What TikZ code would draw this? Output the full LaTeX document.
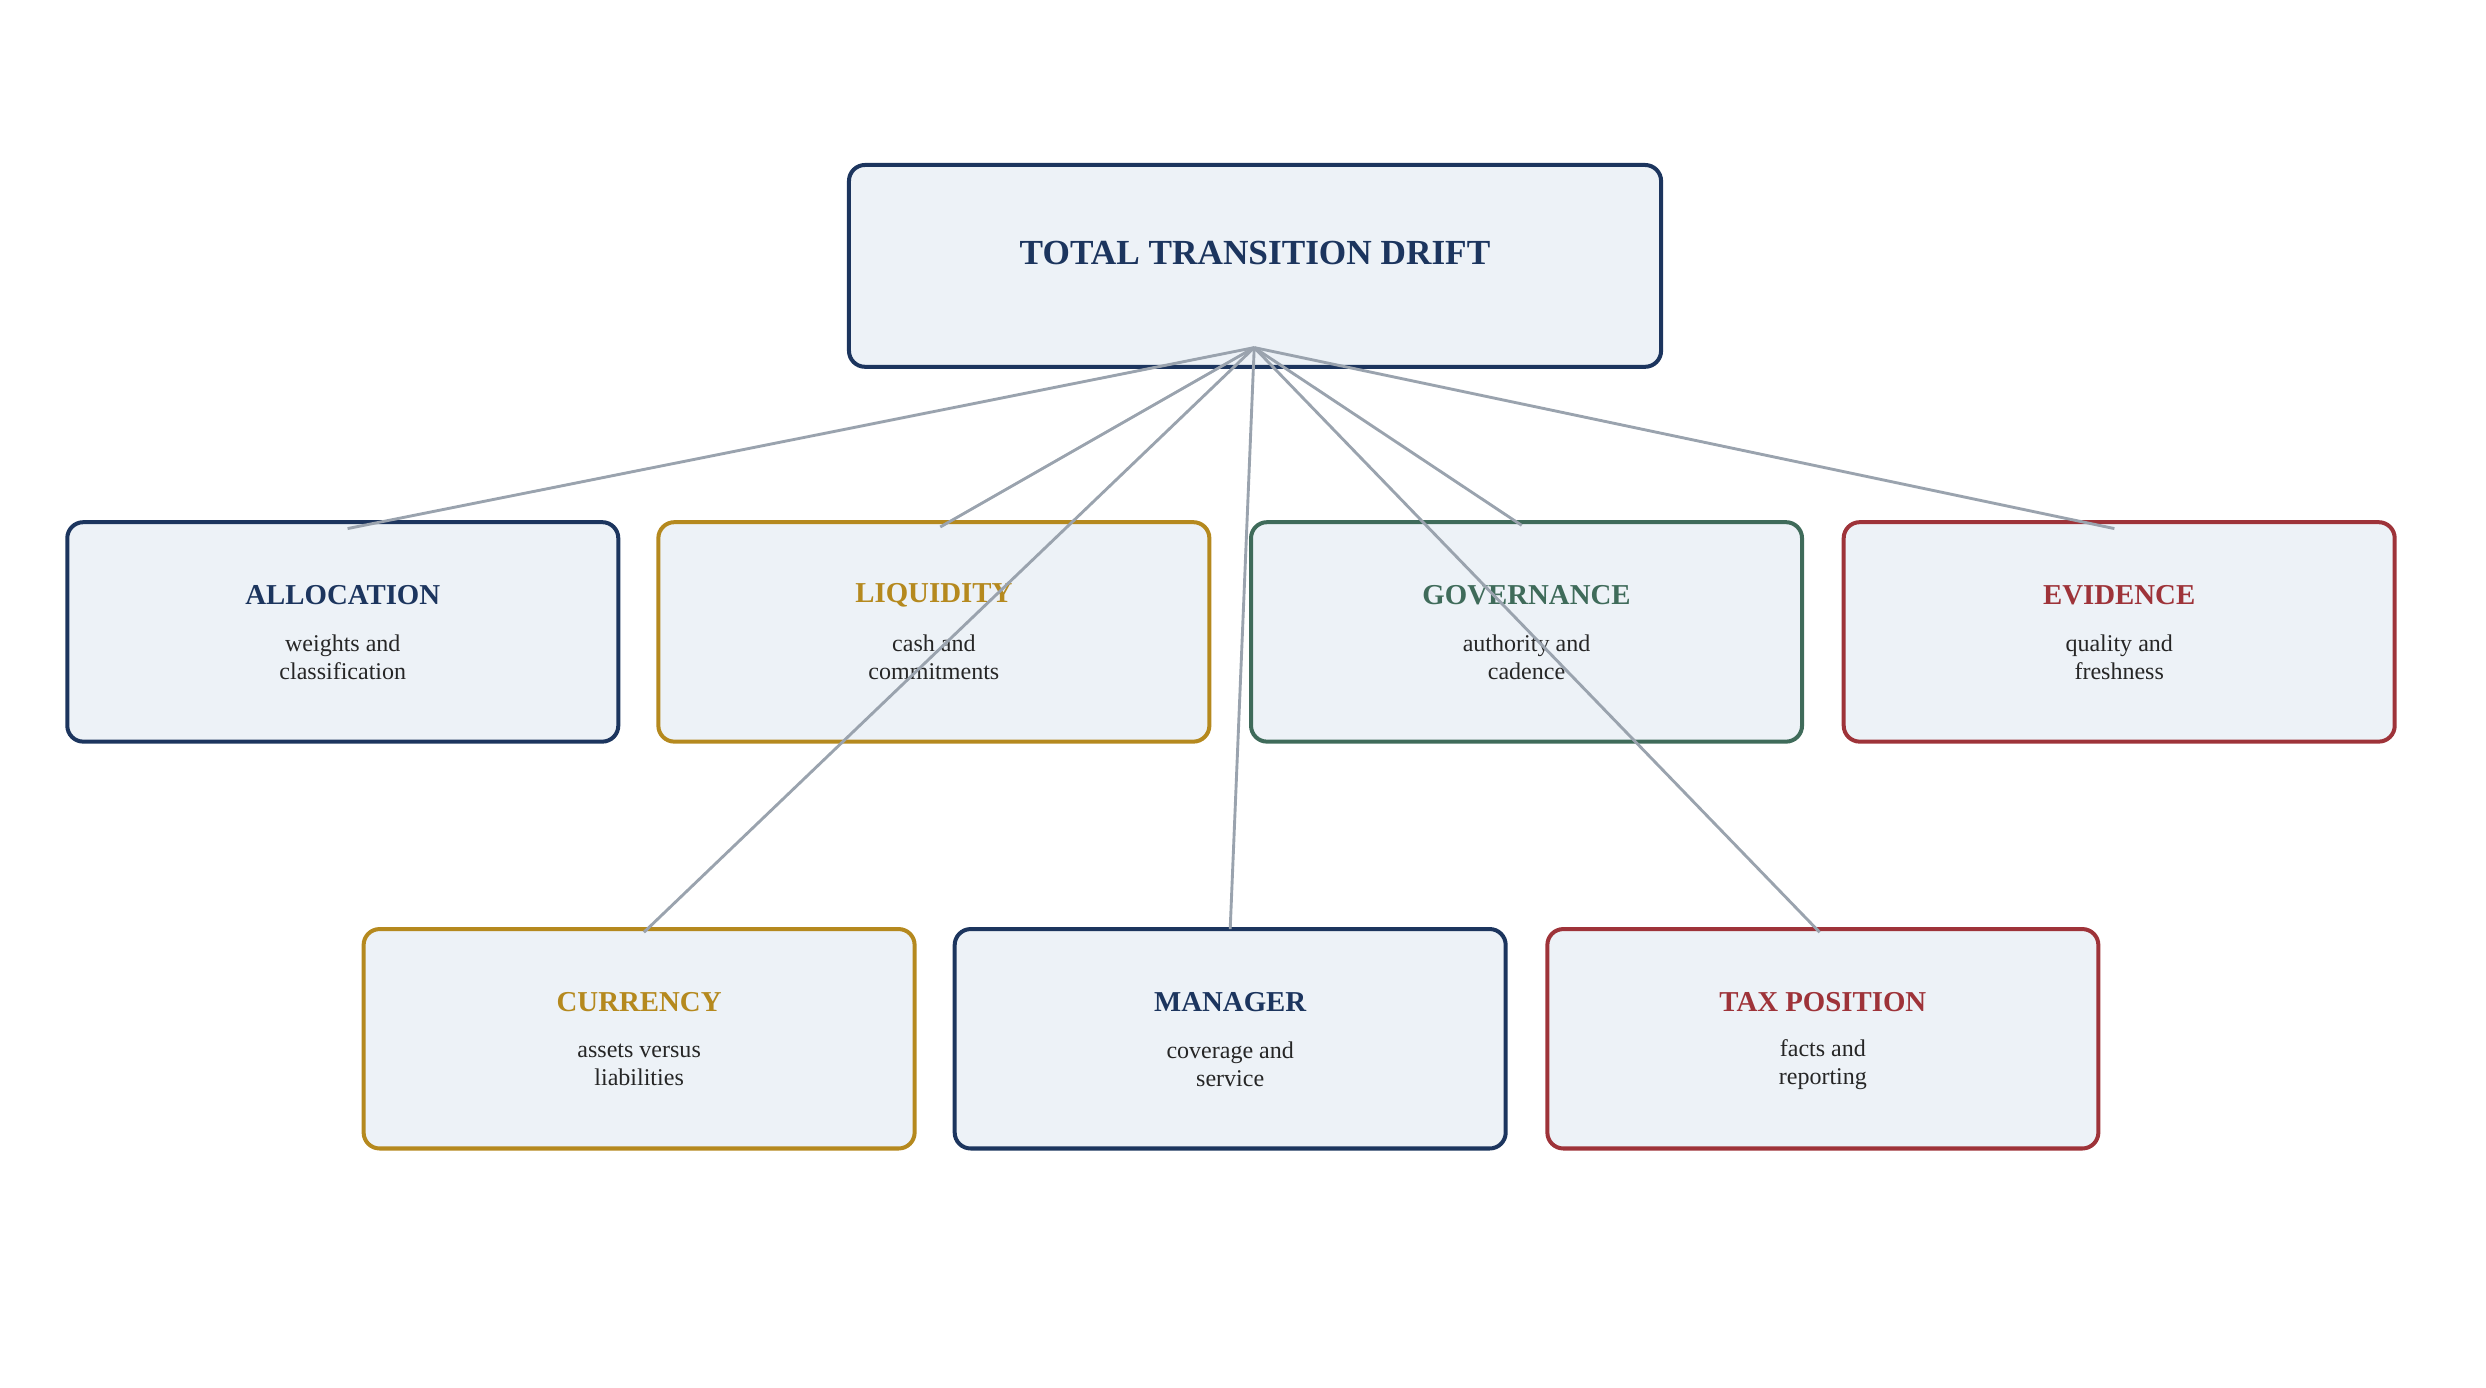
\documentclass[tikz,border=0pt]{standalone}
\usepackage{fontspec}
\setmainfont{Liberation Serif}
\definecolor{navy}{HTML}{1C355E}
\definecolor{gold}{HTML}{B5891E}
\definecolor{green}{HTML}{3F6B5A}
\definecolor{red}{HTML}{9E3339}
\definecolor{boxfill}{HTML}{EDF2F7}
\definecolor{link}{HTML}{9AA3AE}
\begin{document}
\begin{tikzpicture}[x=1pt,y=-1pt,
  box/.style={draw=#1,fill=boxfill,line width=2.5pt,rounded corners=10pt,minimum width=344pt,minimum height=137pt,inner sep=0pt},
  ttl/.style={text=#1,font=\bfseries\fontsize{18}{20}\selectfont},
  sub/.style={font=\fontsize{15}{17.5}\selectfont,align=center,text=black!85},
  conn/.style={draw=link,line width=1.8pt}]
\useasboundingbox (0,0) rectangle (1552,866);
\node[box=navy,minimum width=507pt,minimum height=126pt] (top) at (783.5,166) {};
\node[text=navy,font=\bfseries\fontsize{22}{24}\selectfont] at (783.5,158) {TOTAL TRANSITION DRIFT};
\coordinate (hub) at (783,217);
\foreach \n/\x/\y/\c/\t/\s in {
 alloc/214/394.5/navy/ALLOCATION/{weights and\\classification},
 liq/583/394.5/gold/LIQUIDITY/{cash and\\commitments},
 gov/953/394.5/green/GOVERNANCE/{authority and\\cadence},
 evid/1323/394.5/red/EVIDENCE/{quality and\\freshness},
 curr/399/648.5/gold/CURRENCY/{assets versus\\liabilities},
 mgr/768/648.5/navy/MANAGER/{coverage and\\service},
 tax/1138/648.5/red/TAX POSITION/{facts and\\reporting}}{
 \node[box=\c] (\n) at (\x,\y) {};
 \node[ttl=\c] (\n t) at (\x,\y-23) {\t};
 \node[sub] (\n s) at (\x,\y+16) {\s};
}
\coordinate (ea) at (217,330);
\coordinate (el) at (587,329);
\coordinate (eg) at (950,328);
\coordinate (ee) at (1320,330);
\coordinate (ec) at (402,582);
\coordinate (em) at (768,580);
\coordinate (et) at (1136,582);
\foreach \e in {ea,el,eg,ee,ec,em,et} \draw[conn] (hub) -- (\e);
\end{tikzpicture}
\end{document}
